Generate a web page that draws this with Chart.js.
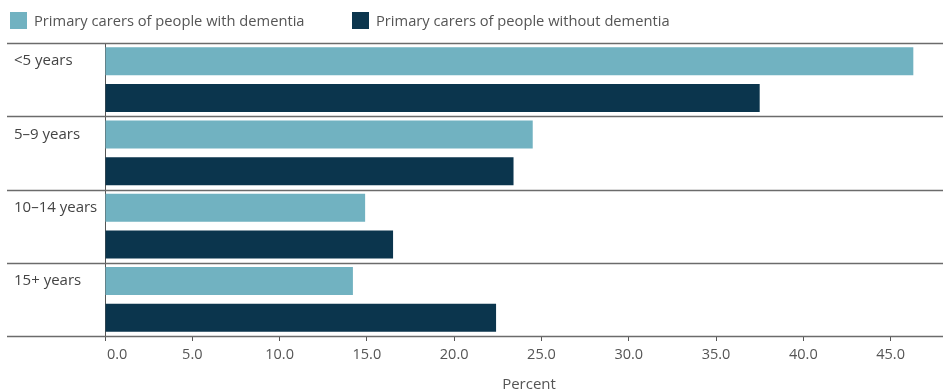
<!DOCTYPE html>
<html>
<head>
<meta charset="utf-8">
<script src="https://cdn.jsdelivr.net/npm/chart.js@4.4.1/dist/chart.umd.min.js"></script>
<style>
  html, body { margin: 0; padding: 0; background: #fff; }
  #wrap { position: relative; width: 943px; height: 392px; }
  #legend { position: absolute; left: 0; top: 0; height: 40px; font-family: "Open Sans", sans-serif; font-size: 14.7px; color: #555; }
  .item { position: absolute; top: 12px; display: flex; align-items: center; white-space: nowrap; line-height: 17px; }
  .sw { width: 17px; height: 17px; margin-right: 7px; flex: none; }
</style>
</head>
<body>
<div id="wrap">
  <canvas id="c" width="943" height="392"></canvas>
  <div id="legend"></div>
</div>
<script>
const categories = ['<5 years', '5\u20139 years', '10\u201314 years', '15+ years'];
const seriesNames = ['Primary carers of people with dementia', 'Primary carers of people without dementia'];
const withDementia = [46.3, 24.5, 14.9, 14.2];
const withoutDementia = [37.5, 23.4, 16.5, 22.4];
const xTicks = [0, 5, 10, 15, 20, 25, 30, 35, 40, 45];
const xTitle = 'Percent';
const colors = ['#71b2c1', '#0b354d'];
const FONT = '"Open Sans", sans-serif';

// HTML legend
const legend = document.getElementById('legend');
const legendX = [10, 352];
seriesNames.forEach((n, i) => {
  const d = document.createElement('div');
  d.className = 'item';
  d.style.left = legendX[i] + 'px';
  d.innerHTML = '<span class="sw" style="background:' + colors[i] + '"></span><span>' + n + '</span>';
  legend.appendChild(d);
});

const bandPlugin = {
  id: 'bands',
  afterDraw(chart) {
    const ctx = chart.ctx, y = chart.scales.y, x = chart.scales.x, area = chart.chartArea;
    ctx.save();
    ctx.strokeStyle = '#6b6b6b';
    ctx.lineWidth = 1.4;
    const n = categories.length;
    const step = (area.bottom - area.top) / n;
    for (let i = 0; i <= n; i++) {
      const py = Math.round(area.top + i * step) + 0.5;
      ctx.beginPath();
      ctx.moveTo(7, py);
      ctx.lineTo(943, py);
      ctx.stroke();
    }
    // category labels
    ctx.fillStyle = '#444';
    ctx.font = '15px ' + FONT;
    ctx.textBaseline = 'middle';
    ctx.textAlign = 'left';
    categories.forEach((c, i) => {
      const center = y.getPixelForValue(i);
      ctx.fillText(c, 14, center - step / 2 + 18);
    });
    // x tick labels
    ctx.fillStyle = '#555';
    ctx.font = '14.5px ' + FONT;
    xTicks.forEach((v, i) => {
      const px = x.getPixelForValue(v);
      if (i === 0) { ctx.textAlign = 'left'; ctx.fillText(v.toFixed(1), px + 2, 355); }
      else { ctx.textAlign = 'center'; ctx.fillText(v.toFixed(1), px, 355); }
    });
    // axis title
    ctx.font = '15px ' + FONT;
    ctx.textAlign = 'center';
    ctx.fillText(xTitle, (area.left + area.right) / 2 + 5, 385);
    ctx.restore();
  }
};

new Chart(document.getElementById('c'), {
  type: 'bar',
  data: {
    labels: categories,
    datasets: [
      { label: seriesNames[0], data: withDementia, backgroundColor: colors[0] },
      { label: seriesNames[1], data: withoutDementia, backgroundColor: colors[1] }
    ]
  },
  options: {
    indexAxis: 'y',
    responsive: false,
    animation: false,
    devicePixelRatio: 1,
    layout: { padding: { top: 43, left: 0, right: 0, bottom: 0 } },
    datasets: { bar: { categoryPercentage: 1.0, barPercentage: 0.765 } },
    plugins: { legend: { display: false }, tooltip: { enabled: false } },
    scales: {
      x: {
        min: 0, max: 48,
        afterBuildTicks: s => { s.ticks = xTicks.map(v => ({ value: v })); },
        afterFit: s => { s.height = 56; },
        grid: { drawOnChartArea: false, drawTicks: true, tickLength: 5, color: '#555' },
        border: { display: true, color: '#555', width: 1 },
        ticks: { display: false }
      },
      y: {
        afterFit: s => { s.width = 105; },
        grid: { display: false },
        border: { display: true, color: '#555', width: 1 },
        ticks: { display: false }
      }
    }
  },
  plugins: [bandPlugin]
});
</script>
</body>
</html>
